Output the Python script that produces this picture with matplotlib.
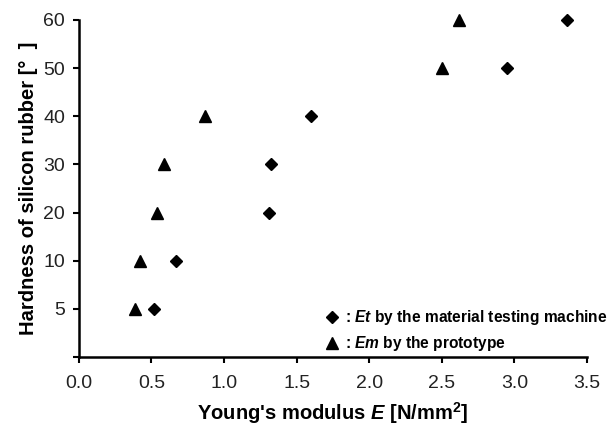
import matplotlib
matplotlib.use("Agg")
import matplotlib.pyplot as plt

plt.rcParams['font.family'] = ['Liberation Sans', 'DejaVu Sans']
plt.rcParams['mathtext.fontset'] = 'custom'
plt.rcParams['mathtext.rm'] = 'Liberation Sans:bold'
plt.rcParams['mathtext.bf'] = 'Liberation Sans:bold'
plt.rcParams['mathtext.it'] = 'Liberation Sans:bold:italic'
plt.rcParams['mathtext.bfit'] = 'Liberation Sans:bold:italic'

hardness = [5, 10, 20, 30, 40, 50, 60]
et_values = [0.52, 0.67, 1.31, 1.32, 1.60, 2.95, 3.36]
em_values = [0.385, 0.42, 0.54, 0.585, 0.87, 2.50, 2.62]
x_ticks = [0.0, 0.5, 1.0, 1.5, 2.0, 2.5, 3.0, 3.5]

# hardness levels are drawn at evenly spaced category positions
ypos = list(range(1, len(hardness) + 1))

fig = plt.figure(figsize=(6.16, 4.25), dpi=100)
ax = fig.add_axes([0.128, 0.16, 0.825, 0.793])

ax.plot(et_values, ypos, linestyle='none', marker='D', markersize=6.5,
        color='black', clip_on=False,
        label=r': $\mathit{Et}$ by the material testing machine')
ax.plot(em_values, ypos, linestyle='none', marker='^', markersize=8.5,
        color='black', clip_on=False,
        label=r': $\mathit{Em}$ by the prototype')

ax.set_xlim(0, 3.5)
ax.set_ylim(0, len(hardness))
ax.set_xticks(x_ticks)
ax.set_xticklabels([f"{v:.1f}" for v in x_ticks])
ax.set_yticks([0] + ypos)
ax.set_yticklabels([''] + [str(h) for h in hardness])

for s in ['top', 'right']:
    ax.spines[s].set_visible(False)
for s in ['left', 'bottom']:
    ax.spines[s].set_linewidth(1.8)
ax.tick_params(direction='out', length=4, width=1.5, labelsize=14,
               labelcolor='#222222')
ax.tick_params(axis='x', pad=9)
ax.tick_params(axis='y', pad=6)

ax.set_xlabel(r"Young's modulus $\mathit{E}$ [N/mm$^{2}$]", fontsize=14.5,
              fontweight='bold', labelpad=6)
ax.set_ylabel("Hardness of silicon rubber [°  ]", fontsize=14.5,
              fontweight='bold', labelpad=4)

leg = ax.legend(loc='lower right', bbox_to_anchor=(1.068, -0.03), frameon=False,
                handletextpad=0.35, handlelength=1.0, labelspacing=0.45,
                prop={'weight': 'bold', 'size': 11.2})

fig.savefig("out.png", dpi=100)
